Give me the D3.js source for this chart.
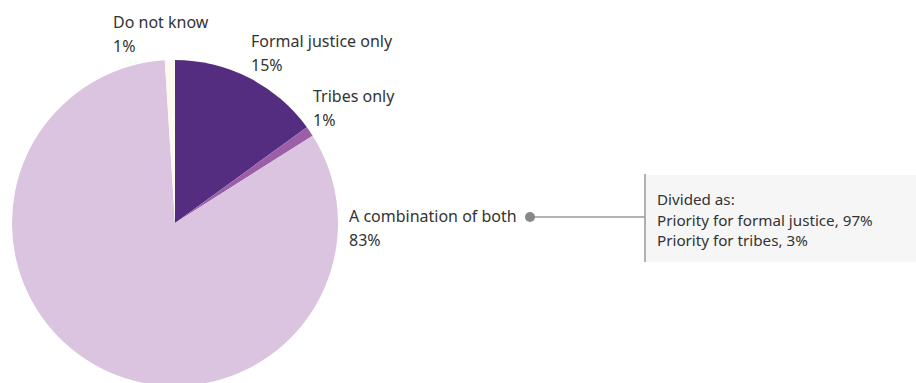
<!DOCTYPE html>
<html>
<head>
<meta charset="utf-8">
<script src="https://cdn.jsdelivr.net/npm/d3@7"></script>
<style>
  body { margin: 0; background: #fff; }
  text { font-family: "Noto Sans", sans-serif; fill: #333; }
</style>
</head>
<body>
<svg id="chart" width="916" height="383"></svg>
<script>
const categories = ['Formal justice only', 'Tribes only', 'A combination of both', 'Do not know']
const shares = [15, 1, 83, 1]
const colors = ['#552d80', '#9b5fa8', '#dac4df', '#fcfaef']
const breakdownTitle = 'Divided as:'
const breakdownLines = ['Priority for formal justice, 97%', 'Priority for tribes, 3%']

const svg = d3.select('#chart')
const cx = 175, cy = 223, radius = 163

const pie = d3.pie().sort(null).value(d => d.value)
const arc = d3.arc().innerRadius(0).outerRadius(radius)
const rows = categories.map((c, i) => ({name: c, value: shares[i], color: colors[i]}))

const g = svg.append('g').attr('transform', `translate(${cx},${cy})`)
g.selectAll('path')
  .data(pie(rows))
  .join('path')
  .attr('d', arc)
  .attr('fill', d => d.data.color)

// label placement (baseline of first line)
const labelPos = {
  'Do not know': [113, 28],
  'Formal justice only': [251, 47],
  'Tribes only': [313, 102],
  'A combination of both': [349, 222]
}

const labels = svg.append('g')
rows.forEach(r => {
  const [x, y] = labelPos[r.name]
  const t = labels.append('text').attr('x', x).attr('y', y).style('font-size', '16px')
  t.append('tspan').attr('x', x).text(r.name)
  t.append('tspan').attr('x', x).attr('dy', 24).text(r.value + '%')
})

// callout for the combination slice
const lineY = 217
svg.append('rect')
  .attr('x', 645).attr('y', 175)
  .attr('width', 271).attr('height', 87)
  .attr('fill', '#f6f6f6')
svg.append('line')
  .attr('x1', 530).attr('x2', 645)
  .attr('y1', lineY).attr('y2', lineY)
  .attr('stroke', '#999').attr('stroke-width', 1.5)
svg.append('line')
  .attr('x1', 645).attr('x2', 645)
  .attr('y1', 174).attr('y2', 262)
  .attr('stroke', '#999').attr('stroke-width', 1.5)
svg.append('circle')
  .attr('cx', 530).attr('cy', lineY).attr('r', 5)
  .attr('fill', '#888')

const box = svg.append('text').attr('x', 657).attr('y', 205).style('font-size', '15.2px')
box.append('tspan').attr('x', 657).text(breakdownTitle)
breakdownLines.forEach(l => {
  box.append('tspan').attr('x', 657).attr('dy', 20.5).text(l)
})
</script>
</body>
</html>
